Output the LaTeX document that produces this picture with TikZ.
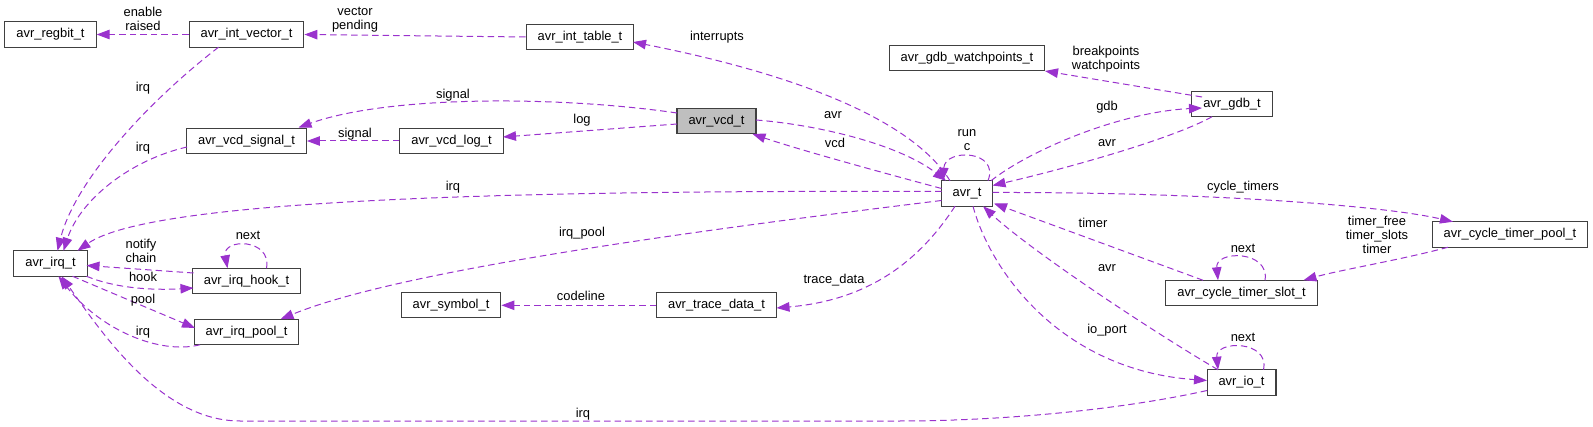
\documentclass[tikz,border=0pt]{standalone}
\usepackage{fontspec}
\setmainfont{Liberation Sans}
\usetikzlibrary{arrows.meta}
\definecolor{edgec}{HTML}{9A32CD}
\definecolor{boxgray}{HTML}{BFBFBF}
\tikzset{
  cls/.style={draw=black!75, line width=1.1pt, minimum height=25.5pt, inner xsep=11.5pt, inner ysep=0pt, text height=9.5pt, text depth=2.8pt, fill=white},
  rel/.style={draw=edgec, line width=1pt, dash pattern=on 6.5pt off 4pt, -{Triangle[length=13pt,width=9.5pt]}},
  lbl/.style={align=center, inner sep=0pt}
}
\begin{document}
\begin{tikzpicture}[x=1pt,y=-1pt,font=\fontsize{12.9}{14}\selectfont]
\useasboundingbox (0,0) rectangle (1593,427);
% nodes
\node[cls] (regbit) at (50.5,34.5) {avr\_regbit\_t};
\node[cls] (ivec) at (246.5,34.5) {avr\_int\_vector\_t};
\node[cls] (itable) at (580,37) {avr\_int\_table\_t};
\node[cls, fill=boxgray] (vcd) at (716.5,121) {avr\_vcd\_t};
\node[cls] (vlog) at (451.5,141) {avr\_vcd\_log\_t};
\node[cls] (vsig) at (246.5,141) {avr\_vcd\_signal\_t};
\node[cls] (gdbw) at (967,58) {avr\_gdb\_watchpoints\_t};
\node[cls] (gdb) at (1232,104) {avr\_gdb\_t};
\node[cls] (avr) at (967,193.5) {avr\_t};
\node[cls] (pool) at (1510,234.5) {avr\_cycle\_timer\_pool\_t};
\node[cls] (slot) at (1241.5,293) {avr\_cycle\_timer\_slot\_t};
\node[cls] (irq) at (50.5,263.5) {avr\_irq\_t};
\node[cls] (hook) at (246.5,281) {avr\_irq\_hook\_t};
\node[cls] (ipool) at (246.5,332) {avr\_irq\_pool\_t};
\node[cls] (sym) at (451,305) {avr\_symbol\_t};
\node[cls] (trace) at (716.5,305) {avr\_trace\_data\_t};
\node[cls] (io) at (1241.5,382.5) {avr\_io\_t};
% edges
\draw[rel] (ivec.west) -- (regbit.east);
\node[lbl] (l1) at (143,19) {enable\\raised};
\draw[rel] (itable.west) -- (ivec.east);
\node[lbl] (l2) at (355,20) {vector\\pending};
\draw[rel] ([shift={(-17,-12.75)}]avr.center) .. controls (925,140) and (850,85) .. ([shift={(53,5)}]itable.center);
\node[lbl] (l3) at (717,37) {interrupts};
\draw[rel] ([shift={(-39.5,-8)}]vcd.center) .. controls (560,96) and (390,95) .. ([shift={(52,-13.5)}]vsig.center);
\node[lbl] (l4) at (453,95) {signal};
\draw[rel] ([shift={(-39.5,3)}]vcd.center) -- ([shift={(51.5,-4)}]vlog.center);
\node[lbl] (l5) at (582,120) {log};
\draw[rel] (vlog.west) -- (vsig.east);
\node[lbl] (l6) at (355,134) {signal};
\draw[rel] ([shift={(39.5,-1)}]vcd.center) .. controls (820,125) and (900,145) .. ([shift={(-21,-12.75)}]avr.center);
\node[lbl] (l7) at (833,115) {avr};
\draw[rel] ([shift={(-25.5,-5)}]avr.center) .. controls (880,172) and (800,150) .. ([shift={(36,13)}]vcd.center);
\node[lbl] (l8) at (835,143) {vcd};
\draw[rel] ([shift={(21,-12.75)}]avr.center) .. controls (1000,150) and (945,148) .. ([shift={(-24,-12.75)}]avr.center);
\node[lbl] (l9) at (967,140) {run\\c};
\draw[rel] ([shift={(24,-12.75)}]avr.center) .. controls (1030,150) and (1120,112) .. ([shift={(-30,4)}]gdb.center);
\node[lbl] (l10) at (1107,107) {gdb};
\draw[rel] ([shift={(-20,12.75)}]gdb.center) .. controls (1170,140) and (1060,170) .. ([shift={(25.5,-8)}]avr.center);
\node[lbl] (l11) at (1107,143) {avr};
\draw[rel] ([shift={(-30,-7)}]gdb.center) -- ([shift={(78,13)}]gdbw.center);
\node[lbl] (l12) at (1106,59.5) {breakpoints\\watchpoints};
\draw[rel] ([shift={(25.5,-1)}]avr.center) .. controls (1200,192) and (1380,205) .. ([shift={(-57,-12.75)}]pool.center);
\node[lbl] (l13) at (1243,187) {cycle\_timers};
\draw[rel] ([shift={(-62,12.75)}]pool.center) .. controls (1400,260) and (1340,270) .. ([shift={(62,-12.75)}]slot.center);
\node[lbl] (l14) at (1377,235) {timer\_free\\timer\_slots\\timer};
\draw[rel] ([shift={(23.5,-12.75)}]slot.center) .. controls (1270,250) and (1215,250) .. ([shift={(-23.5,-12.75)}]slot.center);
\node[lbl] (l15) at (1243,248) {next};
\draw[rel] ([shift={(-38.5,-12.75)}]slot.center) -- ([shift={(27,10)}]avr.center);
\node[lbl] (l16) at (1093,223) {timer};
\draw[rel] ([shift={(6,12.75)}]avr.center) .. controls (990,270) and (1060,370) .. ([shift={(-34.5,-2)}]io.center);
\node[lbl] (l17) at (1107,330) {io\_port};
\draw[rel] ([shift={(-23.5,-12.75)}]io.center) .. controls (1150,330) and (1030,250) .. ([shift={(16,12.75)}]avr.center);
\node[lbl] (l18) at (1107,268) {avr};
\draw[rel] ([shift={(22,-12.75)}]io.center) .. controls (1270,340) and (1215,340) .. ([shift={(-23.5,-12.75)}]io.center);
\node[lbl] (l19) at (1243,337) {next};
\draw[rel] ([shift={(-34.5,8)}]io.center) .. controls (1120,410) and (1000,421) .. (900,421) -- (240,421) .. controls (160,421) and (100,330) .. ([shift={(11,12.75)}]irq.center);
\node[lbl] (l20) at (583,414) {irq};
\draw[rel] ([shift={(-25.5,-2)}]avr.center) .. controls (500,190) and (150,200) .. ([shift={(27,-12.75)}]irq.center);
\node[lbl] (l21) at (453,187) {irq};
\draw[rel] ([shift={(-25.5,7)}]avr.center) .. controls (700,230) and (400,270) .. ([shift={(34,-12.75)}]ipool.center);
\node[lbl] (l22) at (582,233) {irq\_pool};
\draw[rel] ([shift={(-12,12.75)}]avr.center) .. controls (920,260) and (870,300) .. ([shift={(60,3)}]trace.center);
\node[lbl] (l23) at (834,280) {trace\_data};
\draw[rel] ([shift={(0,0.3)}]trace.west) -- ([shift={(0,0.3)}]sym.east);
\node[lbl] (l24) at (581,296) {codeline};
\draw[rel] ([shift={(-28,12.75)}]ivec.center) .. controls (150,100) and (75,180) .. ([shift={(7,-12.75)}]irq.center);
\node[lbl] (l25) at (143,88) {irq};
\draw[rel] ([shift={(-59.5,6)}]vsig.center) .. controls (130,160) and (80,200) .. ([shift={(13,-12.75)}]irq.center);
\node[lbl] (l26) at (143,148) {irq};
\draw[rel] ([shift={(-53,-8)}]hook.center) -- ([shift={(36,2)}]irq.center);
\node[lbl] (l27) at (141,250.5) {notify\\chain};
\draw[rel] ([shift={(36,12.75)}]irq.center) .. controls (120,290) and (160,290) .. ([shift={(-53,7)}]hook.center);
\node[lbl] (l28) at (143,277) {hook};
\draw[rel] ([shift={(20,-12.75)}]hook.center) .. controls (272,238) and (222,238) .. ([shift={(-19,-12.75)}]hook.center);
\node[lbl] (l29) at (248,235) {next};
\draw[rel] ([shift={(22,12.75)}]irq.center) -- ([shift={(-51.5,-4)}]ipool.center);
\node[lbl] (l30) at (143,300) {pool};
\draw[rel] ([shift={(-46.5,12.75)}]ipool.center) .. controls (160,355) and (100,330) .. ([shift={(8,12.75)}]irq.center);
\node[lbl] (l31) at (143,332) {irq};
\end{tikzpicture}
\end{document}
